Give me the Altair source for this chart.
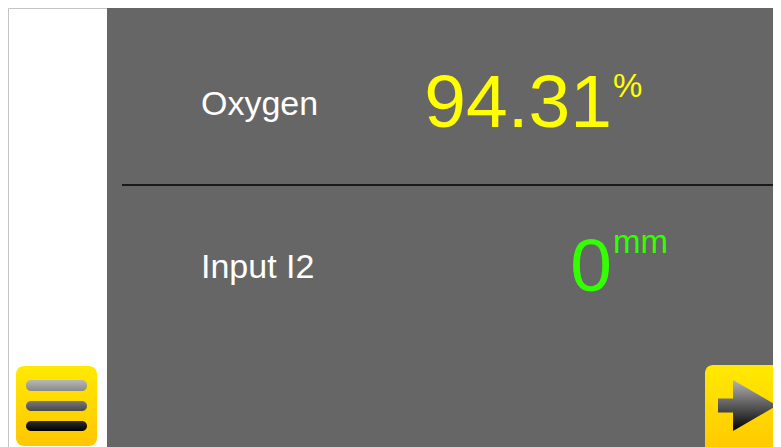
import altair as alt
import pandas as pd

# ---- content ----
labels = ["Oxygen", "Input I2"]
values = ["94.31", "0"]
units = ["%", "mm"]
value_colors = ["#ffff00", "#33ff00"]

rows = pd.DataFrame({"label": labels, "value": values, "unit": units})
one = pd.DataFrame({"k": [0]})

W, H = 765, 439
FONT = "Liberation Sans"


def row_y(rng):
    return alt.Y("label:N", axis=None,
                 scale=alt.Scale(type="point", domain=labels, range=rng, padding=0))


def vgrad(c1, c2):
    return alt.Gradient(gradient="linear", x1=0, x2=0, y1=0, y2=1,
                        stops=[alt.GradientStop(color=c1, offset=0),
                               alt.GradientStop(color=c2, offset=1)])


color_enc = alt.Color("label:N", legend=None,
                      scale=alt.Scale(domain=labels, range=value_colors))

base = alt.Chart(one)

panel = base.mark_rect(fill="#666666").encode(
    x=alt.value(99), x2=alt.value(W + 10), y=alt.value(0), y2=alt.value(H + 10))

divider = base.mark_rule(color="#000000", strokeWidth=1.5).encode(
    x=alt.value(114), x2=alt.value(W + 10), y=alt.value(177))

menu_btn = base.mark_rect(fill=vgrad("#ffea00", "#ffc600"), cornerRadius=8).encode(
    x=alt.value(8), x2=alt.value(89), y=alt.value(358), y2=alt.value(438))

bar_styles = [("#b8b8b8", "#8a8a8a", 372, 383),
              ("#7a7a7a", "#484848", 393, 403),
              ("#2e2e2e", "#000000", 413, 423)]
bars = [base.mark_rect(fill=vgrad(c1, c2), cornerRadius=5).encode(
    x=alt.value(18), x2=alt.value(79), y=alt.value(y1), y2=alt.value(y2))
    for c1, c2, y1, y2 in bar_styles]

next_btn = base.mark_rect(fill=vgrad("#ffea00", "#ffc600"), cornerRadius=8).encode(
    x=alt.value(697), x2=alt.value(W + 30), y=alt.value(357), y2=alt.value(H + 10))

arrow_path = ("M-1,-0.237 L-0.49,-0.237 L-0.49,-0.864 L1,0 L-0.49,0.864 "
              "L-0.49,0.237 L-1,0.237 Z")
arrow = base.mark_point(shape=arrow_path, size=59 * 59, filled=True, opacity=1,
                        fill=vgrad("#b4b4b4", "#000000"), strokeWidth=0).encode(
    x=alt.value(739.5), y=alt.value(397.5))

label_txt = alt.Chart(rows).mark_text(
    align="left", baseline="alphabetic", font=FONT, fontSize=34, color="#ffffff").encode(
    x=alt.value(193), y=row_y([107, 270]), text="label:N")

value_txt = alt.Chart(rows).mark_text(
    align="right", baseline="alphabetic", font=FONT, fontSize=75).encode(
    x=alt.value(604), y=row_y([119, 283]), text="value:N", color=color_enc)

unit_txt = alt.Chart(rows).mark_text(
    align="left", baseline="alphabetic", font=FONT, fontSize=33).encode(
    x=alt.value(605), y=row_y([89, 245]), text="unit:N", color=color_enc)

chart = alt.layer(
    panel, divider, menu_btn, *bars, next_btn, arrow, label_txt, value_txt, unit_txt
).resolve_scale(y="independent").properties(
    width=W, height=H, padding=0, autosize="none", background="#ffffff"
).configure_view(stroke="#c4c4c4", strokeWidth=1, fill="#ffffff")

chart.save("out.html", embed_options={"renderer": "svg", "actions": False})
